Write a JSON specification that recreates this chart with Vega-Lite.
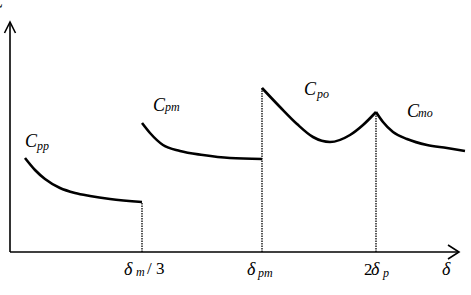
{
  "$schema": "https://vega.github.io/schema/vega-lite/v6.json",
  "width": 471,
  "height": 295,
  "padding": 0,
  "autosize": "none",
  "background": "white",
  "config": {"view": {"stroke": null}},
  "datasets": {
    "curves": [
      {"s": "pp", "o": 1, "x": 15, "y": 94},
      {"s": "pp", "o": 2, "x": 25, "y": 82},
      {"s": "pp", "o": 3, "x": 35, "y": 73},
      {"s": "pp", "o": 4, "x": 50, "y": 64},
      {"s": "pp", "o": 5, "x": 65, "y": 59},
      {"s": "pp", "o": 6, "x": 80, "y": 56},
      {"s": "pp", "o": 7, "x": 100, "y": 53},
      {"s": "pp", "o": 8, "x": 132, "y": 50},
      {"s": "pm", "o": 1, "x": 132, "y": 129},
      {"s": "pm", "o": 2, "x": 140, "y": 119},
      {"s": "pm", "o": 3, "x": 153, "y": 107},
      {"s": "pm", "o": 4, "x": 170, "y": 101},
      {"s": "pm", "o": 5, "x": 193, "y": 97},
      {"s": "pm", "o": 6, "x": 220, "y": 94},
      {"s": "pm", "o": 7, "x": 252, "y": 93},
      {"s": "po", "o": 1, "x": 252, "y": 164},
      {"s": "po", "o": 2, "x": 270, "y": 145},
      {"s": "po", "o": 3, "x": 287, "y": 128},
      {"s": "po", "o": 4, "x": 303, "y": 115},
      {"s": "po", "o": 5, "x": 320, "y": 110},
      {"s": "po", "o": 6, "x": 340, "y": 117},
      {"s": "po", "o": 7, "x": 353, "y": 127},
      {"s": "po", "o": 8, "x": 366, "y": 140},
      {"s": "mo", "o": 1, "x": 366, "y": 140},
      {"s": "mo", "o": 2, "x": 373, "y": 130},
      {"s": "mo", "o": 3, "x": 383, "y": 120},
      {"s": "mo", "o": 4, "x": 397, "y": 113},
      {"s": "mo", "o": 5, "x": 417, "y": 107},
      {"s": "mo", "o": 6, "x": 437, "y": 104},
      {"s": "mo", "o": 7, "x": 455, "y": 101}
    ],
    "axes": [
      {"s": "yaxis", "o": 1, "x": 0, "y": 0},
      {"s": "yaxis", "o": 2, "x": 0, "y": 230},
      {"s": "yarrow", "o": 1, "x": -5.5, "y": 219},
      {"s": "yarrow", "o": 2, "x": 0, "y": 230},
      {"s": "yarrow", "o": 3, "x": 5.5, "y": 219},
      {"s": "xaxis", "o": 1, "x": 0, "y": 0},
      {"s": "xaxis", "o": 2, "x": 449, "y": 0},
      {"s": "xarrow", "o": 1, "x": 438, "y": 7},
      {"s": "xarrow", "o": 2, "x": 449, "y": 0},
      {"s": "xarrow", "o": 3, "x": 438, "y": -7}
    ],
    "guides": [
      {"x": 132, "y": 0, "y2": 50},
      {"x": 252, "y": 0, "y2": 164},
      {"x": 366, "y": 0, "y2": 140}
    ],
    "mainText": [
      {"t": "C", "x": -19, "y": 244},
      {"t": "C", "x": 15, "y": 105},
      {"t": "C", "x": 143, "y": 141},
      {"t": "C", "x": 294, "y": 157},
      {"t": "C", "x": 397, "y": 135},
      {"t": "δ", "x": 114, "y": -23},
      {"t": "δ", "x": 237, "y": -23},
      {"t": "δ", "x": 361, "y": -23},
      {"t": "δ", "x": 432, "y": -23}
    ],
    "uprightText": [
      {"t": "/ 3", "x": 137, "y": -22},
      {"t": "2", "x": 354, "y": -23}
    ],
    "subText": [
      {"t": "pp", "x": 27, "y": 102},
      {"t": "pm", "x": 155, "y": 141},
      {"t": "po", "x": 307, "y": 154},
      {"t": "mo", "x": 408, "y": 135},
      {"t": "m", "x": 126, "y": -24},
      {"t": "pm", "x": 248, "y": -25},
      {"t": "p", "x": 373, "y": -25}
    ]
  },
  "layer": [
    {
      "data": {"name": "guides"},
      "mark": {"type": "rule", "color": "black", "strokeWidth": 1.3, "strokeDash": [1.5, 1]},
      "encoding": {
        "x": {"field": "x", "type": "quantitative", "scale": {"domain": [-10, 461]}, "axis": null},
        "y": {"field": "y", "type": "quantitative", "scale": {"domain": [-43, 252]}, "axis": null},
        "y2": {"field": "y2"}
      }
    },
    {
      "data": {"name": "axes"},
      "mark": {"type": "line", "color": "black", "strokeWidth": 1.6},
      "encoding": {
        "x": {"field": "x", "type": "quantitative", "scale": {"domain": [-10, 461]}, "axis": null},
        "y": {"field": "y", "type": "quantitative", "scale": {"domain": [-43, 252]}, "axis": null},
        "detail": {"field": "s"},
        "order": {"field": "o"}
      }
    },
    {
      "data": {"name": "curves"},
      "mark": {"type": "line", "color": "black", "strokeWidth": 2.6, "interpolate": "monotone"},
      "encoding": {
        "x": {"field": "x", "type": "quantitative", "scale": {"domain": [-10, 461]}, "axis": null},
        "y": {"field": "y", "type": "quantitative", "scale": {"domain": [-43, 252]}, "axis": null},
        "detail": {"field": "s"},
        "order": {"field": "o"}
      }
    },
    {
      "data": {"name": "mainText"},
      "mark": {"type": "text", "font": "Times New Roman", "fontStyle": "italic", "fontSize": 18, "align": "left", "baseline": "alphabetic", "color": "black"},
      "encoding": {
        "x": {"field": "x", "type": "quantitative", "scale": {"domain": [-10, 461]}, "axis": null},
        "y": {"field": "y", "type": "quantitative", "scale": {"domain": [-43, 252]}, "axis": null},
        "text": {"field": "t"}
      }
    },
    {
      "data": {"name": "uprightText"},
      "mark": {"type": "text", "font": "Times New Roman", "fontSize": 17, "align": "left", "baseline": "alphabetic", "color": "black"},
      "encoding": {
        "x": {"field": "x", "type": "quantitative", "scale": {"domain": [-10, 461]}, "axis": null},
        "y": {"field": "y", "type": "quantitative", "scale": {"domain": [-43, 252]}, "axis": null},
        "text": {"field": "t"}
      }
    },
    {
      "data": {"name": "subText"},
      "mark": {"type": "text", "font": "Times New Roman", "fontStyle": "italic", "fontSize": 12, "align": "left", "baseline": "alphabetic", "color": "black"},
      "encoding": {
        "x": {"field": "x", "type": "quantitative", "scale": {"domain": [-10, 461]}, "axis": null},
        "y": {"field": "y", "type": "quantitative", "scale": {"domain": [-43, 252]}, "axis": null},
        "text": {"field": "t"}
      }
    }
  ]
}
